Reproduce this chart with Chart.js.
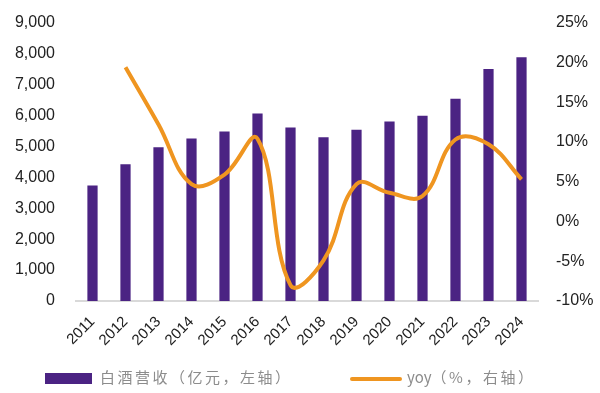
<!DOCTYPE html>
<html>
<head>
<meta charset="utf-8">
<script src="https://cdn.jsdelivr.net/npm/chart.js@4/dist/chart.umd.min.js"></script>
<style>
  body { margin: 0; background: #fff; }
  #wrap { position: relative; width: 600px; height: 393px; }
  .legend { position: absolute; top: 368px; font-family: "Noto Sans CJK SC", sans-serif; font-size: 15px; color: #8c8c8c; letter-spacing: 2.5px; line-height: 18px; white-space: nowrap; }
  .swatch { display: inline-block; vertical-align: middle; margin-right: 8px; }
</style>
</head>
<body>
<div id="wrap">
  <canvas id="chart" width="600" height="393"></canvas>
  <div class="legend" style="left:45px"><span class="swatch" style="width:47px;height:11px;background:#4b2383"></span>白酒营收（亿元，左轴）</div>
  <div class="legend" style="left:350px"><span class="swatch" style="width:52px;height:4px;background:#ef9520;border-radius:2px;margin-right:5px"></span><span style="letter-spacing:0">yoy</span>（%，右轴）</div>
</div>
<script>
// Baijiu revenue vs yoy growth
const years = ['2011', '2012', '2013', '2014', '2015', '2016', '2017', '2018', '2019', '2020', '2021', '2022', '2023', '2024'];
const revenue = [3730, 4420, 4970, 5250, 5480, 6060, 5610, 5290, 5540, 5800, 5990, 6540, 7500, 7880];
const yoy = [null, 19.4, 12.2, 4.7, 5.9, 10.4, -8.0, -4.9, 4.7, 3.6, 3.2, 10.3, 9.7, 5.3];
const leftTicks = [0, 9000, 1000];
const rightTicks = [-10, 25, 5];

const tickFont = { family: 'Liberation Sans', size: 16 };

new Chart(document.getElementById('chart'), {
    data: {
        labels: years,
        datasets: [{
            type: 'line',
            label: 'yoy（%，右轴）',
            data: yoy,
            yAxisID: 'y1',
            borderColor: '#ef9520',
            borderWidth: 4,
            pointRadius: 0,
            tension: 0.4,
            order: 1
        }, {
            type: 'bar',
            label: '白酒营收（亿元，左轴）',
            data: revenue,
            yAxisID: 'y',
            backgroundColor: '#4b2383',
            barPercentage: 0.31,
            categoryPercentage: 1,
            order: 2
        }]
    },
    options: {
        responsive: false,
        animation: false,
        layout: { padding: { top: 20, left: 0, right: 0, bottom: 0 } },
        plugins: { legend: { display: false }, tooltip: { enabled: false } },
        scales: {
            x: {
                grid: { display: false },
                border: { display: true, color: '#d9d9d9', width: 2 },
                ticks: { color: '#222', font: { family: 'Liberation Sans', size: 15 }, minRotation: 45, maxRotation: 45, padding: 4 },
                afterFit: s => { s.height = 92; }
            },
            y: {
                position: 'left',
                min: leftTicks[0], max: leftTicks[1],
                grid: { display: false },
                border: { display: false },
                ticks: { stepSize: leftTicks[2], color: '#222', font: tickFont, padding: 13,
                    callback: v => v.toLocaleString('en-US') },
                afterFit: s => { s.width = 76; }
            },
            y1: {
                position: 'right',
                min: rightTicks[0], max: rightTicks[1],
                grid: { display: false },
                border: { display: false },
                ticks: { stepSize: rightTicks[2], color: '#222', font: tickFont, padding: 10,
                    callback: v => v + '%' },
                afterFit: s => { s.width = 62; }
            }
        }
    }
});
</script>
</body>
</html>
